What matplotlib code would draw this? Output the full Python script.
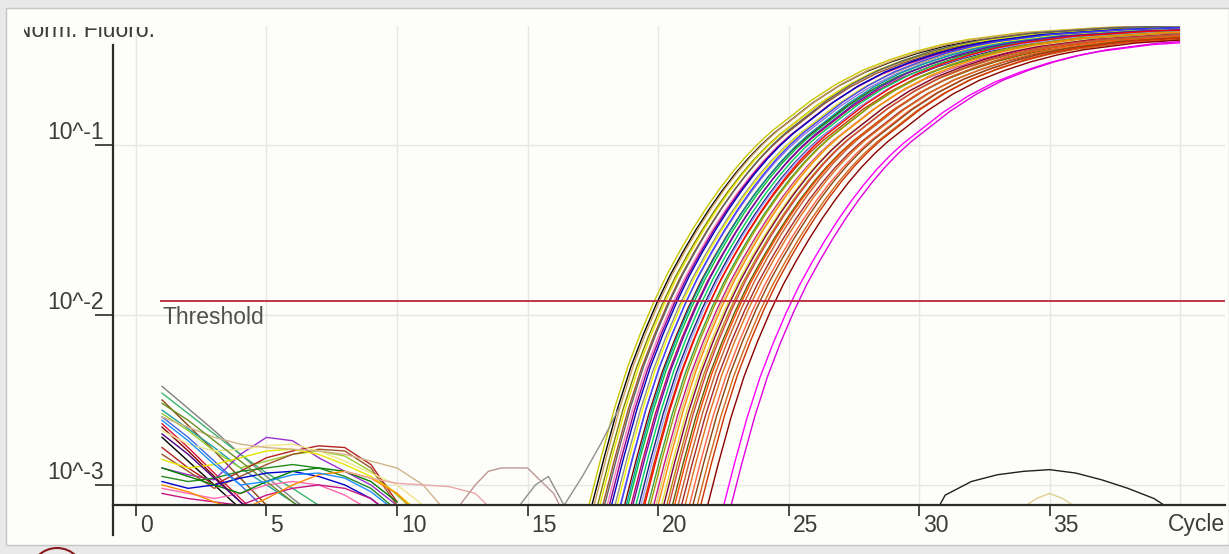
import matplotlib.pyplot as plt
import matplotlib.transforms as mtransforms
from matplotlib.patches import Rectangle, Circle
import numpy as np

plt.rcParams['font.family'] = ['Liberation Sans', 'DejaVu Sans']

# shared amplification shape: cycles relative to the
# threshold crossing, log10 of norm. fluorescence
amp_rel = [-3.5, -3, -2.5, -2, -1.5, -1, -0.5, 0, 0.5, 1, 1.5, 2, 2.5, 3, 3.5, 4,
           4.5, 5, 5.5, 6, 7, 8, 9, 10, 11, 12, 13, 14, 15, 17, 19, 21]
amp_log = [-3.9, -3.45, -3.12, -2.82, -2.54, -2.3, -2.1, -1.92, -1.76, -1.62, -1.49,
           -1.37, -1.26, -1.16, -1.07, -0.99, -0.92, -0.86, -0.8, -0.74, -0.64,
           -0.56, -0.5, -0.45, -0.41, -0.38, -0.36, -0.34, -0.33, -0.31, -0.30, -0.295]

# per well: threshold cycle, plateau offset (log10), colour
amp_ct = [19.85, 19.95, 20.05, 20.15, 20.25, 20.35, 20.45, 20.5, 20.6, 20.7, 20.8,
          20.9, 21.0, 21.05, 21.15, 21.25, 21.3, 21.4, 21.5, 21.6, 21.7, 21.8,
          21.85, 21.95, 22.05, 22.15, 22.25, 22.35, 22.45, 22.55, 22.65, 22.75,
          22.85, 22.95, 23.05, 23.2, 23.3, 23.45, 23.6, 23.75, 23.9, 24.05, 24.3,
          24.9, 25.2]
amp_off = [0.0, -0.01, 0.0, -0.02, -0.01, -0.02, 0.0, -0.03, -0.02, -0.01, -0.03,
           -0.02, -0.03, -0.01, -0.04, -0.02, -0.03, -0.04, -0.02, -0.03, -0.04,
           -0.03, -0.05, -0.02, -0.04, -0.03, -0.05, -0.04, -0.03, -0.05, -0.04,
           -0.05, -0.04, -0.06, -0.05, -0.04, -0.06, -0.05, -0.06, -0.05, -0.06,
           -0.05, -0.06, -0.07, -0.06]
amp_col = ['#c8c800', '#000000', '#d2a060', '#808000', '#e6e600', '#a0522d',
           '#606060', '#ff80c0', '#8b008b', '#0000c0', '#909090', '#f5f500',
           '#9370db', '#4040ff', '#800000', '#00a0a0', '#00c040', '#c00060',
           '#6a0dad', '#00d060', '#202080', '#a0a0ff', '#c04000', '#ff0000',
           '#40a040', '#a0a000', '#c71585', '#e0d070', '#ff8c00', '#e0e040',
           '#800040', '#b8860b', '#d04040', '#606000', '#ff4500', '#c06030',
           '#a52a2a', '#e07020', '#ff6347', '#8b4513', '#d2691e', '#cc3300',
           '#8b0000', '#ff00ff', '#e000e0']

# baseline wiggles, log10 values at cycles 1, 2, 3, ...
bl_logs = [
    [-2.42, -2.55, -2.68, -2.82, -2.95, -3.08, -3.2],
    [-2.46, -2.58, -2.7, -2.82, -2.93, -3.02, -3.12],
    [-2.5, -2.65, -2.8, -2.96, -3.12, -3.3],
    [-2.56, -2.67, -2.78, -2.9, -3.0, -3.1, -3.2],
    [-2.6, -2.72, -2.86, -3.0, -3.15],
    [-2.66, -2.8, -2.95, -3.1, -3.25],
    [-2.72, -2.86, -3.0, -3.14],
    [-2.64, -2.78, -2.93, -3.08, -3.22],
    [-2.58, -2.68, -2.8, -2.9, -2.86, -2.82, -2.8, -2.83, -2.92, -3.06, -3.2],
    [-2.9, -2.94, -2.97, -2.82, -2.72, -2.74, -2.84, -2.92, -3.0, -3.12],
    [-2.78, -2.9, -3.0, -2.92, -2.84, -2.8, -2.77, -2.78, -2.88, -3.1],
    [-2.82, -2.92, -3.02, -2.95, -2.88, -2.82, -2.79, -2.8, -2.9, -3.12],
    [-2.85, -2.9, -2.88, -2.84, -2.8, -2.79, -2.82, -2.88, -2.95, -3.05, -3.18],
    [-2.68, -2.76, -2.8, -2.79, -2.77, -2.76, -2.8, -2.86, -2.93, -3.0, -3.12],
    [-2.95, -2.98, -2.96, -2.92, -2.9, -2.88, -2.9, -2.95, -3.02, -3.15],
    [-2.98, -3.02, -3.0, -2.96, -2.93, -2.92, -2.95, -3.0, -3.08, -3.2],
    [-3.02, -3.05, -3.08, -3.05, -3.0, -2.98, -3.0, -3.06, -3.15],
    [-2.9, -2.95, -3.0, -3.05, -2.98, -2.92, -2.9, -2.92, -2.98, -3.1],
    [-3.05, -3.08, -3.1, -3.12, -3.06, -3.02, -3.0, -3.02, -3.08, -3.2],
    [-3.0, -3.04, -3.1, -3.15, -3.08, -3.0, -2.94, -2.92, -2.96, -3.05, -3.2],
    [-2.6, -2.66, -2.72, -2.76, -2.78, -2.79, -2.8, -2.82, -2.86, -2.9, -3.0, -3.18],
    [-2.7, -2.82, -2.96, -3.1, -3.22],
    [-2.52, -2.62, -2.74, -2.86, -2.98, -3.1, -3.22],
    [-2.62, -2.74, -2.88, -3.0, -2.98, -2.94, -2.93, -2.96, -3.04, -3.16],
]
bl_col = ['#808080', '#3cb371', '#8b4513', '#20a0a0', '#4169e1', '#800000',
          '#000000', '#dc143c', '#9acd32', '#9932cc', '#b22222', '#a0522d',
          '#e6e600', '#f0e68c', '#228b22', '#0000cd', '#ff69b4', '#008000',
          '#c71585', '#ff8c00', '#d2b48c', '#4b0082', '#6b8e23', '#1e90ff']

# odd late wells (cycle, log10)
pink_x = [8, 9, 10, 11, 12, 13, 14]
pink_y = [-2.92, -2.96, -2.99, -3.0, -3.01, -3.05, -3.2]
mauve_x = [12, 13, 13.5, 14, 15, 16, 16.5]
mauve_y = [-3.2, -3.0, -2.92, -2.9, -2.9, -3.05, -3.2]
grey_x = [14.7, 15.3, 15.8, 16.4, 17.1, 17.8, 18.5]
grey_y = [-3.12, -3.0, -2.95, -3.12, -2.95, -2.76, -2.55]
black_x = [30.5, 31, 32, 33, 34, 35, 36, 37, 38, 39, 39.5]
black_y = [-3.2, -3.06, -2.98, -2.94, -2.92, -2.91, -2.93, -2.97, -3.02, -3.08, -3.13]
tan_x = [33.8, 34.5, 35, 35.5, 36.2]
tan_y = [-3.15, -3.08, -3.05, -3.08, -3.15]

threshold = 10 ** -1.918
x_ticks = [0, 5, 10, 15, 20, 25, 30, 35]
grid_x = [0, 5, 10, 15, 20, 25, 30, 35, 40]
y_ticks = [1e-3, 1e-2, 1e-1]
y_labels = ['10^-3', '10^-2', '10^-1']
y_lo, y_hi = 10 ** -3.118, 10 ** -0.30

W, H = 1229, 554
fig = plt.figure(figsize=(W / 100, H / 100), dpi=100, facecolor='#e9e9e9')
fig.patches.append(Rectangle((6 / W, 9 / H), (W - 6) / W, 537 / H, transform=fig.transFigure,
                             facecolor='#fdfdf9', edgecolor='#c4c4c4', lw=1, zorder=-5))
fig.patches.append(Circle((0.57, -0.21), 0.27, transform=fig.dpi_scale_trans,
                          fill=False, edgecolor='#8b1a1a', lw=1.5, zorder=1))

ax = fig.add_axes([113 / W, (H - 505) / H, (1225 - 113) / W, (505 - 26) / H])
ax.set_facecolor('none')
ax.set_yscale('log')
ax.set_xlim(-0.88, 41.72)
ax.set_ylim(y_lo, y_hi)

for g in grid_x:
    ax.axvline(g, color='#e6e6e6', lw=1, zorder=0)
for g in y_ticks:
    ax.axhline(g, color='#e6e6e6', lw=1, zorder=0)

# curves stop at cycle 40
clip40 = Rectangle((0.9, y_lo), 39.1, y_hi - y_lo, transform=ax.transData)
for ct, off, c in zip(amp_ct, amp_off, amp_col):
    ln, = ax.plot(np.array(amp_rel) + ct, 10 ** (np.array(amp_log) + off), color=c, lw=1.0)
    ln.set_clip_path(clip40)

for vals, c in zip(bl_logs, bl_col):
    ax.plot(np.arange(1, len(vals) + 1), 10 ** np.array(vals), color=c, lw=1.0)

ax.plot(pink_x, 10 ** np.array(pink_y), color='#e8a8a8', lw=1.0)
ax.plot(mauve_x, 10 ** np.array(mauve_y), color='#c09494', lw=1.0)
ax.plot(grey_x, 10 ** np.array(grey_y), color='#909090', lw=1.0)
ax.plot(black_x, 10 ** np.array(black_y), color='#202020', lw=1.0)
ax.plot(tan_x, 10 ** np.array(tan_y), color='#e0d090', lw=1.0)

ax.hlines(threshold, 0.92, 41.72, color='#b8283c', lw=1.3, zorder=5)
off_thr = mtransforms.ScaledTranslation(0, -0.05, fig.dpi_scale_trans)
ax.text(1.03, threshold, 'Threshold', fontsize=16.5, color='#505050', va='top', ha='left',
        transform=ax.transData + off_thr)

for s in ['top', 'right', 'left']:
    ax.spines[s].set_visible(False)
ax.spines['bottom'].set_color('#2a2a2a')
ax.spines['bottom'].set_linewidth(1.6)
ax.plot([0, 0], [-0.063, 0.96], transform=ax.transAxes, color='#2a2a2a', lw=1.6, clip_on=False)

ax.set_xticks(x_ticks)
ax.set_yticks(y_ticks)
ax.yaxis.set_minor_locator(plt.NullLocator())
ax.tick_params(axis='x', direction='out', length=8, width=1.2, color='#2a2a2a', labelbottom=False)
ax.tick_params(axis='y', direction='out', length=13, width=1.2, color='#2a2a2a', labelleft=False)

xt = mtransforms.blended_transform_factory(ax.transData, ax.transAxes)
off_x = mtransforms.ScaledTranslation(0.04, -0.09, fig.dpi_scale_trans)
for v in x_ticks:
    ax.text(v, 0, str(v), fontsize=16.5, color='#3c3c3c', ha='left', va='top',
            transform=xt + off_x)
ax.text(39.55, 0, 'Cycle', fontsize=16.5, color='#3c3c3c', ha='left', va='top',
        transform=xt + mtransforms.ScaledTranslation(0, -0.08, fig.dpi_scale_trans))

yt = mtransforms.blended_transform_factory(ax.transAxes, ax.transData)
off_y = mtransforms.ScaledTranslation(-0.09, 0.06, fig.dpi_scale_trans)
for v, lab in zip(y_ticks, y_labels):
    ax.text(0, v, lab, fontsize=16.5, color='#3c3c3c', ha='right', va='baseline',
            transform=yt + off_y)

t = fig.text(15 / W, 1 - 37 / H, 'Norm. Fluoro.', fontsize=16.5, color='#3c3c3c',
             ha='left', va='baseline')
t.set_clip_box(mtransforms.Bbox([[24, 0], [W, H - 27]]))
t.set_clip_on(True)

fig.savefig('out.png', dpi=100, facecolor=fig.get_facecolor())
